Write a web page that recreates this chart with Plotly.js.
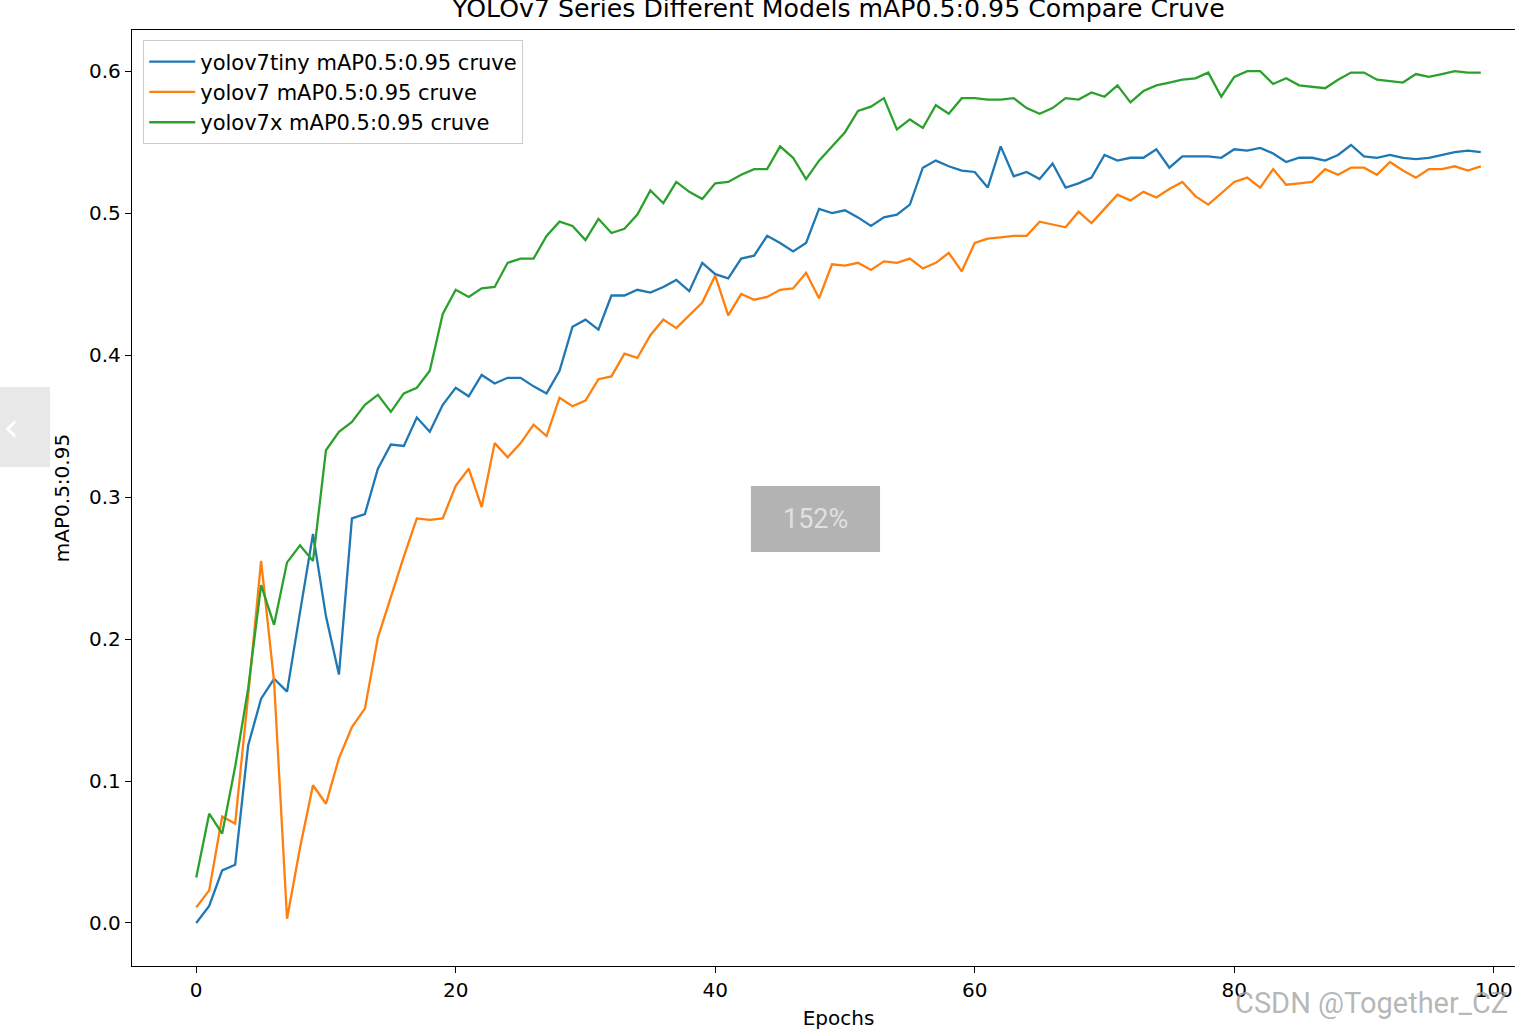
<!DOCTYPE html>
<html>
<head>
<meta charset="utf-8">
<script src="https://cdn.plot.ly/plotly-3.0.1.min.js"></script>
<style>
html, body { margin: 0; padding: 0; overflow: hidden; background: #fff; }
#chart { width: 1560px; height: 1030px; }
</style>
</head>
<body>
<div id="chart"></div>
<script>
const epochs = Array.from({length: 100}, (_, i) => i);

const yolov7tiny = [
  0.000, 0.012, 0.037, 0.041, 0.125, 0.158, 0.172, 0.163, 0.219, 0.274,
  0.216, 0.175, 0.285, 0.288, 0.320, 0.337, 0.336, 0.356, 0.346, 0.365,
  0.377, 0.371, 0.386, 0.380, 0.384, 0.384, 0.378, 0.373, 0.389, 0.420,
  0.425, 0.418, 0.442, 0.442, 0.446, 0.444, 0.448, 0.453, 0.445, 0.465,
  0.457, 0.454, 0.468, 0.470, 0.484, 0.479, 0.473, 0.479, 0.503, 0.500,
  0.502, 0.497, 0.491, 0.497, 0.499, 0.506, 0.532, 0.537, 0.533, 0.530,
  0.529, 0.518, 0.547, 0.526, 0.529, 0.524, 0.535, 0.518, 0.521, 0.525,
  0.541, 0.537, 0.539, 0.539, 0.545, 0.532, 0.540, 0.540, 0.540, 0.539,
  0.545, 0.544, 0.546, 0.542, 0.536, 0.539, 0.539, 0.537, 0.541, 0.548,
  0.540, 0.539, 0.541, 0.539, 0.538, 0.539, 0.541, 0.543, 0.544, 0.543
];

const yolov7 = [
  0.011, 0.023, 0.075, 0.070, 0.160, 0.255, 0.170, 0.003, 0.053, 0.097,
  0.084, 0.116, 0.138, 0.151, 0.201, 0.230, 0.258, 0.285, 0.284, 0.285,
  0.308, 0.320, 0.293, 0.338, 0.328, 0.338, 0.351, 0.343, 0.370, 0.364,
  0.368, 0.383, 0.385, 0.401, 0.398, 0.414, 0.425, 0.419, 0.428, 0.437,
  0.456, 0.428, 0.443, 0.439, 0.441, 0.446, 0.447, 0.458, 0.440, 0.464,
  0.463, 0.465, 0.460, 0.466, 0.465, 0.468, 0.461, 0.465, 0.472, 0.459,
  0.479, 0.482, 0.483, 0.484, 0.484, 0.494, 0.492, 0.490, 0.501, 0.493,
  0.503, 0.513, 0.509, 0.515, 0.511, 0.517, 0.522, 0.512, 0.506, 0.514,
  0.522, 0.525, 0.518, 0.531, 0.520, 0.521, 0.522, 0.531, 0.527, 0.532,
  0.532, 0.527, 0.536, 0.530, 0.525, 0.531, 0.531, 0.533, 0.530, 0.533
];

const yolov7x = [
  0.032, 0.077, 0.063, 0.110, 0.165, 0.238, 0.210, 0.254, 0.266, 0.255,
  0.333, 0.346, 0.353, 0.365, 0.372, 0.360, 0.373, 0.377, 0.389, 0.429,
  0.446, 0.441, 0.447, 0.448, 0.465, 0.468, 0.468, 0.484, 0.494, 0.491,
  0.481, 0.496, 0.486, 0.489, 0.499, 0.516, 0.507, 0.522, 0.515, 0.510,
  0.521, 0.522, 0.527, 0.531, 0.531, 0.547, 0.539, 0.524, 0.537, 0.547,
  0.557, 0.572, 0.575, 0.581, 0.559, 0.566, 0.560, 0.576, 0.570, 0.581,
  0.581, 0.580, 0.580, 0.581, 0.574, 0.570, 0.574, 0.581, 0.580, 0.585,
  0.582, 0.590, 0.578, 0.586, 0.590, 0.592, 0.594, 0.595, 0.599, 0.582,
  0.596, 0.600, 0.600, 0.591, 0.595, 0.590, 0.589, 0.588, 0.594, 0.599,
  0.599, 0.594, 0.593, 0.592, 0.598, 0.596, 0.598, 0.600, 0.599, 0.599
];

const seriesNames = [
  'yolov7tiny mAP0.5:0.95 cruve',
  'yolov7 mAP0.5:0.95 cruve',
  'yolov7x mAP0.5:0.95 cruve'
];
const seriesColors = ['#1f77b4', '#ff7f0e', '#2ca02c'];
const seriesValues = [yolov7tiny, yolov7, yolov7x];

const xTicks = [0, 20, 40, 60, 80, 100];
const yTicks = [0.0, 0.1, 0.2, 0.3, 0.4, 0.5, 0.6];
const yTickText = ['0.0', '0.1', '0.2', '0.3', '0.4', '0.5', '0.6'];

const FONT = 'DejaVu Sans, Verdana, sans-serif';

const traces = seriesValues.map((vals, k) => ({
  x: epochs,
  y: vals,
  type: 'scatter',
  mode: 'lines',
  name: seriesNames[k],
  line: { color: seriesColors[k], width: 2.3 }
}));

const layout = {
  width: 1560,
  height: 1030,
  margin: { l: 132, r: 15, t: 30, b: 64 },
  paper_bgcolor: '#ffffff',
  plot_bgcolor: '#ffffff',
  font: { family: FONT, size: 20, color: '#000' },
  title: {
    text: 'YOLOv7 Series Different Models mAP0.5:0.95 Compare Cruve',
    font: { family: FONT, size: 25.2, color: '#000' },
    xref: 'paper', x: 0.5, xanchor: 'center',
    yref: 'container', y: 1 - 8 / 1030, yanchor: 'middle'
  },
  xaxis: {
    range: [-4.95, 103.95],
    tickvals: xTicks,
    ticktext: xTicks.map(String),
    ticks: 'outside', ticklen: 6, tickwidth: 1.2, tickcolor: '#000',
    showgrid: false, zeroline: false,
    showline: true, linecolor: '#000', linewidth: 1.3, mirror: true,
    tickfont: { family: FONT, size: 20, color: '#000' },
    title: { text: 'Epochs', font: { family: FONT, size: 20, color: '#000' }, standoff: 9 }
  },
  yaxis: {
    range: [-0.0303, 0.629],
    tickvals: yTicks,
    ticktext: yTickText,
    ticks: 'outside', ticklen: 6, tickwidth: 1.2, tickcolor: '#000',
    showgrid: false, zeroline: false,
    showline: true, linecolor: '#000', linewidth: 1.3, mirror: true,
    tickfont: { family: FONT, size: 20, color: '#000' },
    title: { text: 'mAP0.5:0.95', font: { family: FONT, size: 20, color: '#000' }, standoff: 14 }
  },
  showlegend: true,
  legend: {
    x: 0.0078, y: 0.989, xanchor: 'left', yanchor: 'top',
    bgcolor: 'rgba(255,255,255,0.8)',
    bordercolor: '#cccccc', borderwidth: 1.2,
    font: { family: FONT, size: 21, color: '#000' },
    tracegroupgap: 0,
    itemwidth: 46
  },
  shapes: [
    { type: 'rect', xref: 'paper', yref: 'paper', layer: 'above',
      x0: 0.438, x1: 0.5294, y0: 0.4423, y1: 0.5128,
      fillcolor: '#b3b3b3', line: { width: 0 } },
    { type: 'rect', xref: 'paper', yref: 'paper', layer: 'above',
      x0: -0.0934, x1: -0.058, y0: 0.5331, y1: 0.6186,
      fillcolor: '#e8e8e8', line: { width: 0 } }
  ],
  annotations: [
    { xref: 'paper', yref: 'paper', x: 0.4837, y: 0.4776, text: '152%',
      showarrow: false, xanchor: 'center', yanchor: 'middle',
      font: { family: 'Roboto, sans-serif', size: 27, color: '#e0e0e0' } },
    { xref: 'paper', yref: 'paper', x: -0.0855, y: 0.5759, text: '‹',
      showarrow: false, xanchor: 'center', yanchor: 'middle',
      font: { family: 'DejaVu Sans, sans-serif', size: 40, color: '#ffffff' } },
    { xref: 'paper', yref: 'paper', x: 0.877, y: -0.0395, text: 'CSDN @Together_CZ',
      showarrow: false, xanchor: 'center', yanchor: 'middle',
      font: { family: 'Liberation Sans Narrow, Roboto, sans-serif', size: 29, color: 'rgba(160,160,160,0.75)' } }
  ]
};

Plotly.newPlot('chart', traces, layout, { displayModeBar: false, responsive: false });
</script>
</body>
</html>
